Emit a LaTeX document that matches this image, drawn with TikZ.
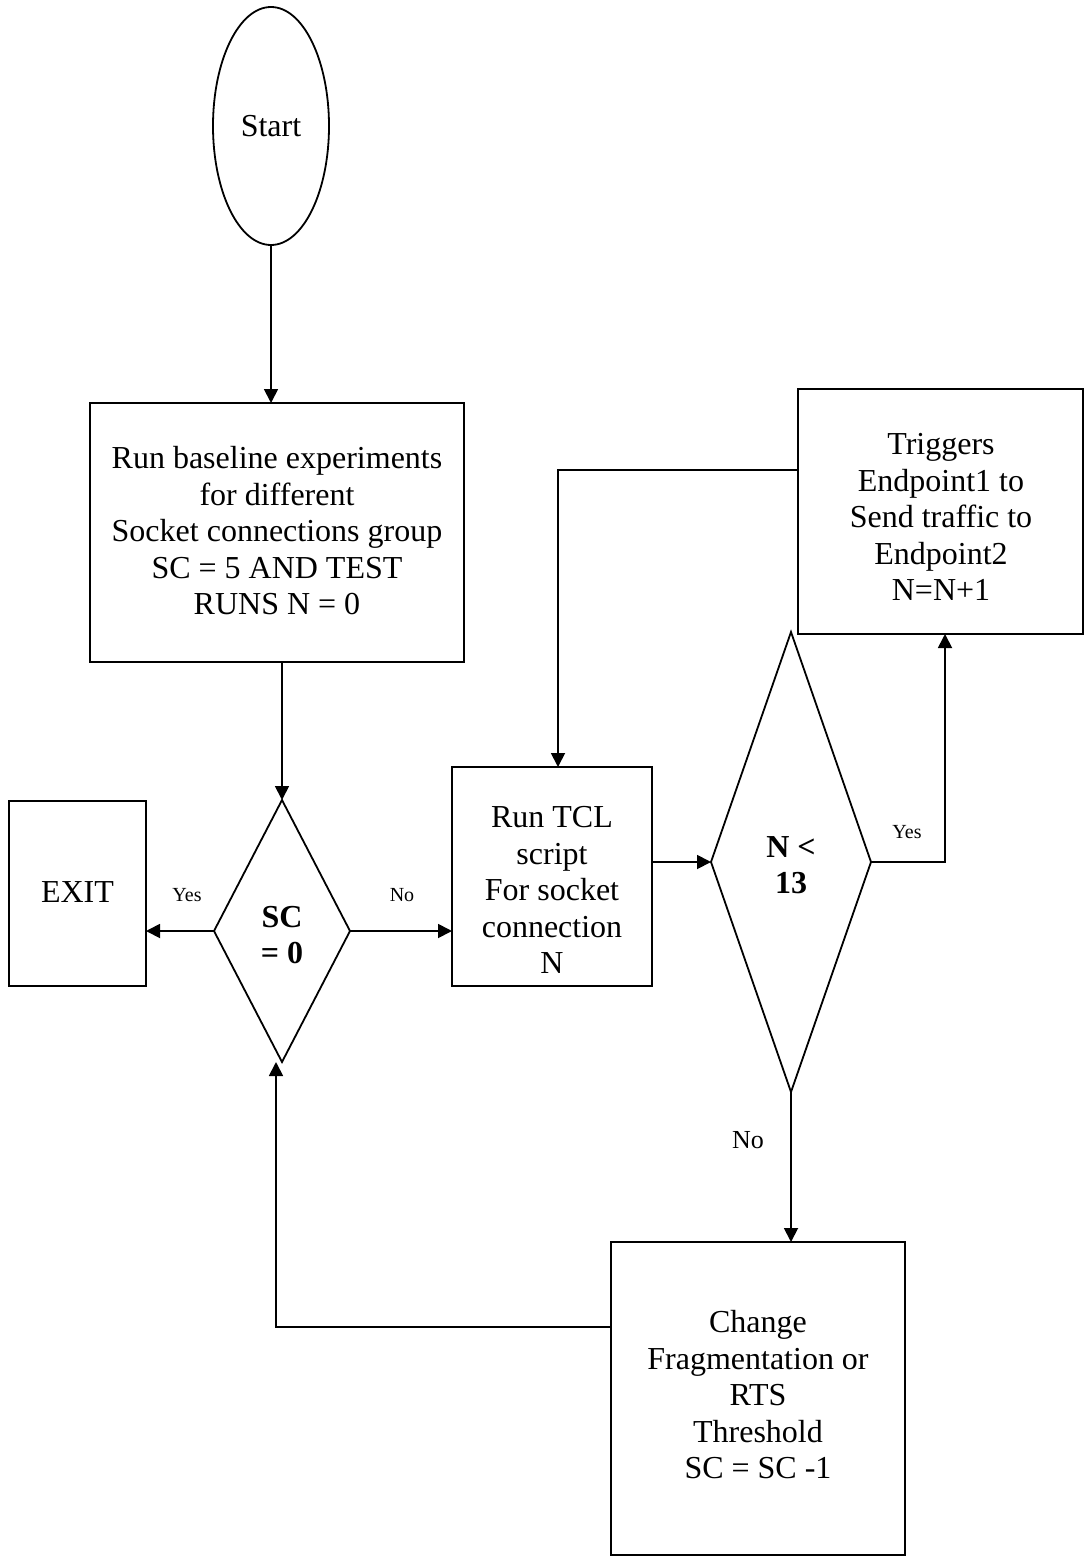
\documentclass[tikz,border=0pt]{standalone}
\usepackage{fontspec}
\setmainfont{Liberation Serif}
\usetikzlibrary{shapes.geometric,arrows.meta}
\begin{document}
\begin{tikzpicture}[x=0.5pt,y=-0.5pt,
  every node/.style={inner sep=0pt,outer sep=0pt},
  shp/.style={draw,line width=0.9pt},
  boxshape/.style={shp,rectangle},
  txt/.style={align=center,font=\fontsize{16}{18.25}\selectfont},
  small/.style={font=\fontsize{10}{12}\selectfont},
  mid/.style={font=\fontsize{13}{15}\selectfont},
  arr/.style={line width=0.9pt,-{Triangle[length=7pt,width=7pt]}},
  conn/.style={line width=0.9pt}]
\useasboundingbox[fill=white] (0,0) rectangle (1085,1557);

% shapes
\node[shp,ellipse,minimum width=58pt,minimum height=119pt] (start) at (271,126) {};
\node[boxshape,minimum width=187pt,minimum height=129.5pt] (box1) at (277,532.5) {};
\node[boxshape,minimum width=68.5pt,minimum height=92.5pt] (exit) at (77.5,893.5) {};
\node[shp,diamond,minimum width=68pt,minimum height=131pt] (d1) at (282,931) {};
\node[boxshape,minimum width=100pt,minimum height=109.5pt] (tcl) at (552,876.5) {};
\node[shp,diamond,minimum width=80pt,minimum height=230pt] (d2) at (791,862) {};
\node[boxshape,minimum width=142.5pt,minimum height=122.5pt] (box3) at (940.5,511.5) {};
\node[boxshape,minimum width=147pt,minimum height=156.5pt] (box4) at (758,1398.5) {};

% texts
\node[txt] (tstart) at (271,126) {Start};
\node[txt] (tbox1) at (277,531) {Run baseline experiments\\for different\\Socket connections group\\SC = 5 AND TEST\\RUNS N = 0};
\node[txt] (texit) at (77.5,892) {EXIT};
\node[txt,font=\fontsize{16}{18.25}\selectfont\bfseries] (td1) at (282,935) {SC\\= 0};
\node[txt] (ttcl) at (552,890) {Run TCL\\script\\For socket\\connection\\N};
\node[txt,font=\fontsize{16}{18.25}\selectfont\bfseries] (td2) at (791,865) {N <\\13};
\node[txt] (tbox3) at (941,517) {Triggers\\Endpoint1 to\\Send traffic to\\Endpoint2\\N=N+1};
\node[txt] (tbox4) at (758,1395) {Change\\Fragmentation or\\RTS\\Threshold\\SC = SC -1};

% labels
\node[small] (lyes1) at (187,895) {Yes};
\node[small] (lno1) at (402,895) {No};
\node[small] (lyes2) at (907,832) {Yes};
\node[mid] (lno2) at (748,1140) {No};

% connectors
\draw[arr] (start.south) -- (start.south |- box1.north);
\draw[arr] (box1.south -| d1.north) -- (d1.north);
\draw[arr] (d1.west) -- (d1.west -| exit.east);
\draw[arr] (d1.east) -- (d1.east -| tcl.west);
\draw[arr] (d2.west -| tcl.east) -- (d2.west);
\draw[arr] (d2.east) -| ([xshift=2.25pt]box3.south);
\draw[arr] ([yshift=20.75pt]box3.west) -| ([xshift=3pt]tcl.north);
\draw[arr] (d2.south) -- (d2.south |- box4.north);
\draw[arr] ([yshift=35.75pt]box4.west) -| ([xshift=-3pt]d1.south);
\end{tikzpicture}
\end{document}
